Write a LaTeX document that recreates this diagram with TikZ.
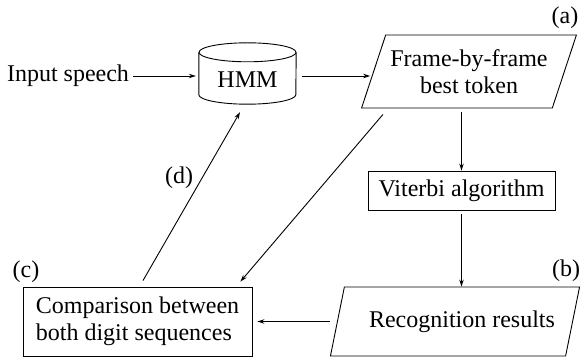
\documentclass[tikz,border=0pt]{standalone}
\usepackage{fontspec}
\setmainfont{Liberation Serif}
\usetikzlibrary{arrows.meta,shapes.geometric}
\begin{document}
\begin{tikzpicture}[x=1pt,y=-1pt,
  every node/.style={font=\fontsize{24}{27.5}\selectfont, inner sep=0pt},
  line/.style={line width=0.9pt},
  arr/.style={line width=0.9pt,-{Stealth[length=7pt,width=4.5pt]}},
  box/.style={draw, line width=0.9pt, rectangle},
  para/.style={draw, line width=0.9pt, trapezium, trapezium stretches=true, align=center},
]
\useasboundingbox (0,0) rectangle (582,358);
\node (inp) at (68,76) {Input speech};
\node[minimum width=97pt, minimum height=61pt] (hmm) at (247.5,73.5) {\raisebox{-6pt}[\height][\depth]{HMM}};
\draw[line] ([yshift=-9.5pt]hmm.north) ellipse [x radius=48.5pt, y radius=9.5pt];
\draw[line] ([yshift=-9.5pt]hmm.north west) -- ([yshift=9.5pt]hmm.south west)
  arc[start angle=180, end angle=360, x radius=48.5pt, y radius=9.5pt]
  -- ([yshift=-9.5pt]hmm.north east);
\node[para, trapezium left angle=63, trapezium right angle=117, minimum width=215pt, minimum height=73pt] (fa) at (469,71.5) {Frame-by-frame\\best token};
\node[box, minimum width=187pt, minimum height=39pt] (vit) at (461.5,190.5) {Viterbi algorithm};
\node[para, trapezium left angle=60, trapezium right angle=120, minimum width=250pt, minimum height=69pt] (rec) at (455,321.5) {\hspace*{14pt}Recognition results};
\node[box, minimum width=229pt, minimum height=69pt, align=left] (cmp) at (137.5,321.5) {Comparison between\\both digit sequences};
\node (la) at (565,18) {(a)};
\node (lb) at (566,271) {(b)};
\node (lc) at (26,272) {(c)};
\node (ld) at (179,178) {(d)};
\draw[arr] ([xshift=4pt]inp.east) -- ([xshift=-3pt]inp.east -| hmm.west);
\draw[arr] ([xshift=6pt]hmm.east |- inp.east) -- ([xshift=-3pt]fa.west |- inp.east);
\draw[arr] ([yshift=-4pt]fa.south -| vit.north) -- (vit.north);
\draw[arr] ([yshift=-4pt]vit.south) -- (vit.south |- rec.north);
\draw[arr] ([xshift=-7pt]rec.west) -- ([xshift=5pt]cmp.east);
\draw[arr] ([shift={(22pt,-6pt)}]fa.bottom left corner) -- ([shift={(-12pt,5pt)}]cmp.north east);
\draw[arr] ([shift={(5.5pt,6pt)}]cmp.north) -- ([shift={(-7.5pt,-8pt)}]hmm.south);
\end{tikzpicture}
\end{document}
